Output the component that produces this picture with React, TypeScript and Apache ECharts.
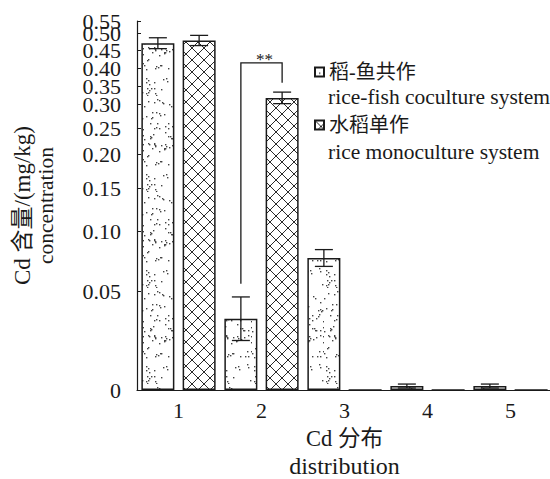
import React, { useEffect, useRef } from 'react';
import * as echarts from 'echarts';

// ---- data ----
const categories = ['1', '2', '3', '4', '5'];
const riceFishName = '稻-鱼共作';
const monoName = '水稻单作';
const riceFishEn = 'rice-fish coculture system';
const monoEn = 'rice monoculture system';
const riceFish = [0.470, 0.036, 0.0775, 0.002, 0.002];
const riceFishErr = [0.016, 0.011, 0.007, 0.001, 0.001];
const monoculture = [0.478, 0.317, 0, 0, 0];
const monocultureErr = [0.015, 0.016, 0, 0, 0];
const tickValues = [0, 0.05, 0.1, 0.15, 0.2, 0.25, 0.3, 0.35, 0.4, 0.45, 0.5, 0.55];
const tickLabels = ['0', '0.05', '0.10', '0.15', '0.20', '0.25', '0.30', '0.35', '0.40', '0.45', '0.50', '0.55'];
// non-linear (broken) axis scale: relative axis units for each tick value
const scaleUnits = [0, 99, 159, 202, 236, 262, 286, 304, 322, 340, 357, 369];
// significance bracket (category 2): left foot, top, right foot
const bracket = { cat: 1, left: 0.056, top: 0.414, right: 0.359, text: '**' };

const SERIF = "'Liberation Serif', 'Times New Roman', 'Noto Sans CJK SC', serif";
const INK = '#1a1a1a';

function toUnits(v: number): number {
  if (v <= tickValues[0]) return scaleUnits[0];
  for (let i = 1; i < tickValues.length; i++) {
    if (v <= tickValues[i]) {
      const t = (v - tickValues[i - 1]) / (tickValues[i] - tickValues[i - 1]);
      return scaleUnits[i - 1] + t * (scaleUnits[i] - scaleUnits[i - 1]);
    }
  }
  return scaleUnits[scaleUnits.length - 1];
}

function makeDots(): HTMLCanvasElement {
  const w = 36, h = 96;
  const c = document.createElement('canvas');
  c.width = w; c.height = h;
  const ctx = c.getContext('2d')!;
  ctx.fillStyle = '#fff';
  ctx.fillRect(0, 0, w, h);
  let s = 20240607;
  const rnd = () => { s = (Math.imul(s, 1103515245) + 12345) >>> 0; return (s >>> 8) / 16777216; };
  ctx.fillStyle = '#444';
  for (let i = 0; i < 100; i++) {
    const x = Math.floor(rnd() * w), y = Math.floor(rnd() * h);
    ctx.fillRect(x, y, 1.4, 1.4);
  }
  return c;
}

function makeHatch(): HTMLCanvasElement {
  const n = 12;
  const c = document.createElement('canvas');
  c.width = n; c.height = n;
  const ctx = c.getContext('2d')!;
  ctx.fillStyle = '#fff';
  ctx.fillRect(0, 0, n, n);
  ctx.strokeStyle = '#2a2a2a';
  ctx.lineWidth = 1;
  ctx.beginPath();
  ctx.moveTo(-1, -1); ctx.lineTo(n + 1, n + 1);
  ctx.moveTo(n + 1, -1); ctx.lineTo(-1, n + 1);
  ctx.stroke();
  return c;
}

const BAR_W = 33;
const BAR_GAP = 0.25;
const OFFSET = (BAR_W + BAR_W * BAR_GAP) / 2;

function errorSeries(vals: number[], errs: number[], offset: number) {
  const data = vals
    .map((v, i) => [i, toUnits(v - errs[i]), toUnits(v + errs[i]), errs[i]])
    .filter((d) => d[3] > 0);
  return {
    type: 'custom',
    z: 5,
    silent: true,
    data,
    renderItem: (_p: any, api: any) => {
      const idx = api.value(0);
      const lo = api.coord([idx, api.value(1)]);
      const hi = api.coord([idx, api.value(2)]);
      const x = lo[0] + offset;
      const st = { stroke: INK, lineWidth: 1.3 };
      return {
        type: 'group',
        children: [
          { type: 'line', shape: { x1: x, y1: lo[1], x2: x, y2: hi[1] }, style: st },
          { type: 'line', shape: { x1: x - 9, y1: hi[1], x2: x + 9, y2: hi[1] }, style: st },
          { type: 'line', shape: { x1: x - 9, y1: lo[1], x2: x + 9, y2: lo[1] }, style: st },
        ],
      };
    },
  };
}

export default function App() {
  const ref = useRef<HTMLDivElement>(null);
  useEffect(() => {
    if (!ref.current) return;
    const chart = echarts.init(ref.current, null, { renderer: 'svg' });
    const dots = makeDots();
    const hatch = makeHatch();
    const dotFill = { image: dots, repeat: 'repeat', imageWidth: dots.width, imageHeight: dots.height };
    const hatchFill = { image: hatch, repeat: 'repeat', imageWidth: hatch.width, imageHeight: hatch.height };
    const tickUnits = tickValues.map(toUnits);
    const evenUnits = tickUnits.filter((_, i) => i % 2 === 0);
    const oddUnits = tickUnits.filter((_, i) => i % 2 === 1);
    const labelFor = (u: number) => {
      let best = 0;
      tickUnits.forEach((t, i) => { if (Math.abs(t - u) < Math.abs(tickUnits[best] - u)) best = i; });
      return tickLabels[best];
    };
    const legendText = { fontFamily: SERIF, fontSize: 20, color: INK, lineHeight: 22 };
    const yMax = scaleUnits[scaleUnits.length - 1];
    const yLabel = (values: number[]) => ({
      fontFamily: SERIF, fontSize: 22, color: INK, margin: 16,
      showMinLabel: true, showMaxLabel: true, hideOverlap: false,
      customValues: values,
      formatter: (v: number) => labelFor(v),
    });

    chart.setOption({
      animation: false,
      backgroundColor: '#fff',
      textStyle: { fontFamily: SERIF, color: INK },
      grid: { left: 137, top: 21, width: 415, height: 369, containLabel: false, outerBoundsMode: 'none' },
      legend: [
        {
          data: [riceFishName], left: 314, top: 61, orient: 'vertical', selectedMode: false, padding: 0,
          itemWidth: 9, itemHeight: 9, itemGap: 0, icon: 'rect', textStyle: legendText,
        },
        {
          data: [monoName], left: 314, top: 114, orient: 'vertical', selectedMode: false, padding: 0,
          itemWidth: 9, itemHeight: 9, itemGap: 0, icon: 'rect', textStyle: legendText,
        },
      ],
      graphic: [
        { type: 'text', left: 328, top: 86, style: { text: riceFishEn, font: `21.5px ${SERIF}`, fill: INK } },
        { type: 'text', left: 328, top: 141, style: { text: monoEn, font: `21.5px ${SERIF}`, fill: INK } },
      ],
      xAxis: {
        type: 'category',
        data: categories,
        name: '{a|Cd 分布}\n{b|distribution}',
        nameLocation: 'middle',
        nameGap: 34,
        nameTextStyle: {
          fontFamily: SERIF, color: INK,
          rich: {
            a: { fontFamily: SERIF, fontSize: 22.5, lineHeight: 28, color: INK },
            b: { fontFamily: SERIF, fontSize: 24, lineHeight: 28, color: INK },
          },
        },
        axisLine: { lineStyle: { color: INK, width: 1.2 } },
        axisTick: { inside: true, alignWithLabel: true, length: 4, lineStyle: { color: INK } },
        axisLabel: { fontFamily: SERIF, fontSize: 22, color: INK, margin: 9 },
      },
      yAxis: [
        {
          type: 'value',
          min: 0,
          max: yMax,
          position: 'left',
          offset: 0,
          name: '{a|Cd 含量/(mg/kg)}\n{b|concentration}',
          nameLocation: 'middle',
          nameRotate: 90,
          nameGap: 80,
          nameTextStyle: {
            fontFamily: SERIF, color: INK,
            rich: {
              a: { fontFamily: SERIF, fontSize: 23, lineHeight: 23, color: INK },
              b: { fontFamily: SERIF, fontSize: 21.5, lineHeight: 23, color: INK },
            },
          },
          splitLine: { show: false },
          axisLine: { show: true, lineStyle: { color: INK, width: 1.2 } },
          axisTick: { show: true, inside: true, length: 4, customValues: tickUnits, lineStyle: { color: INK } },
          axisLabel: yLabel(evenUnits),
        },
        {
          type: 'value',
          min: 0,
          max: yMax,
          position: 'left',
          offset: 0,
          splitLine: { show: false },
          axisLine: { show: false },
          axisTick: { show: false },
          axisLabel: yLabel(oddUnits),
        },
      ],
      series: [
        {
          name: riceFishName,
          type: 'bar',
          barWidth: BAR_W,
          barGap: `${BAR_GAP * 100}%`,
          data: riceFish.map(toUnits),
          itemStyle: { color: dotFill, borderColor: INK, borderWidth: 1.5 },
        },
        {
          name: monoName,
          type: 'bar',
          barWidth: BAR_W,
          barGap: `${BAR_GAP * 100}%`,
          data: monoculture.map(toUnits),
          itemStyle: { color: hatchFill, borderColor: INK, borderWidth: 1.5 },
        },
        errorSeries(riceFish, riceFishErr, -OFFSET),
        errorSeries(monoculture, monocultureErr, OFFSET),
        {
          type: 'custom',
          z: 6,
          silent: true,
          data: [[bracket.cat, toUnits(bracket.left), toUnits(bracket.top), toUnits(bracket.right)]],
          renderItem: (_p: any, api: any) => {
            const idx = api.value(0);
            const a = api.coord([idx, api.value(1)]);
            const t = api.coord([idx, api.value(2)]);
            const b = api.coord([idx, api.value(3)]);
            const xl = a[0] - OFFSET, xr = a[0] + OFFSET;
            return {
              type: 'group',
              children: [
                {
                  type: 'polyline',
                  shape: { points: [[xl, a[1]], [xl, t[1]], [xr, t[1]], [xr, b[1]]] },
                  style: { stroke: INK, lineWidth: 1.3, fill: 'none' },
                },
                {
                  type: 'text',
                  x: (xl + xr) / 2 + 3,
                  y: t[1] - 3,
                  style: { text: bracket.text, font: `17px ${SERIF}`, fill: INK, align: 'center', verticalAlign: 'middle' },
                },
              ],
            };
          },
        },
      ],
    });
    return () => chart.dispose();
  }, []);
  return <div ref={ref} style={{ position: 'absolute', left: 0, top: 0, width: 550, height: 479 }} />;
}
